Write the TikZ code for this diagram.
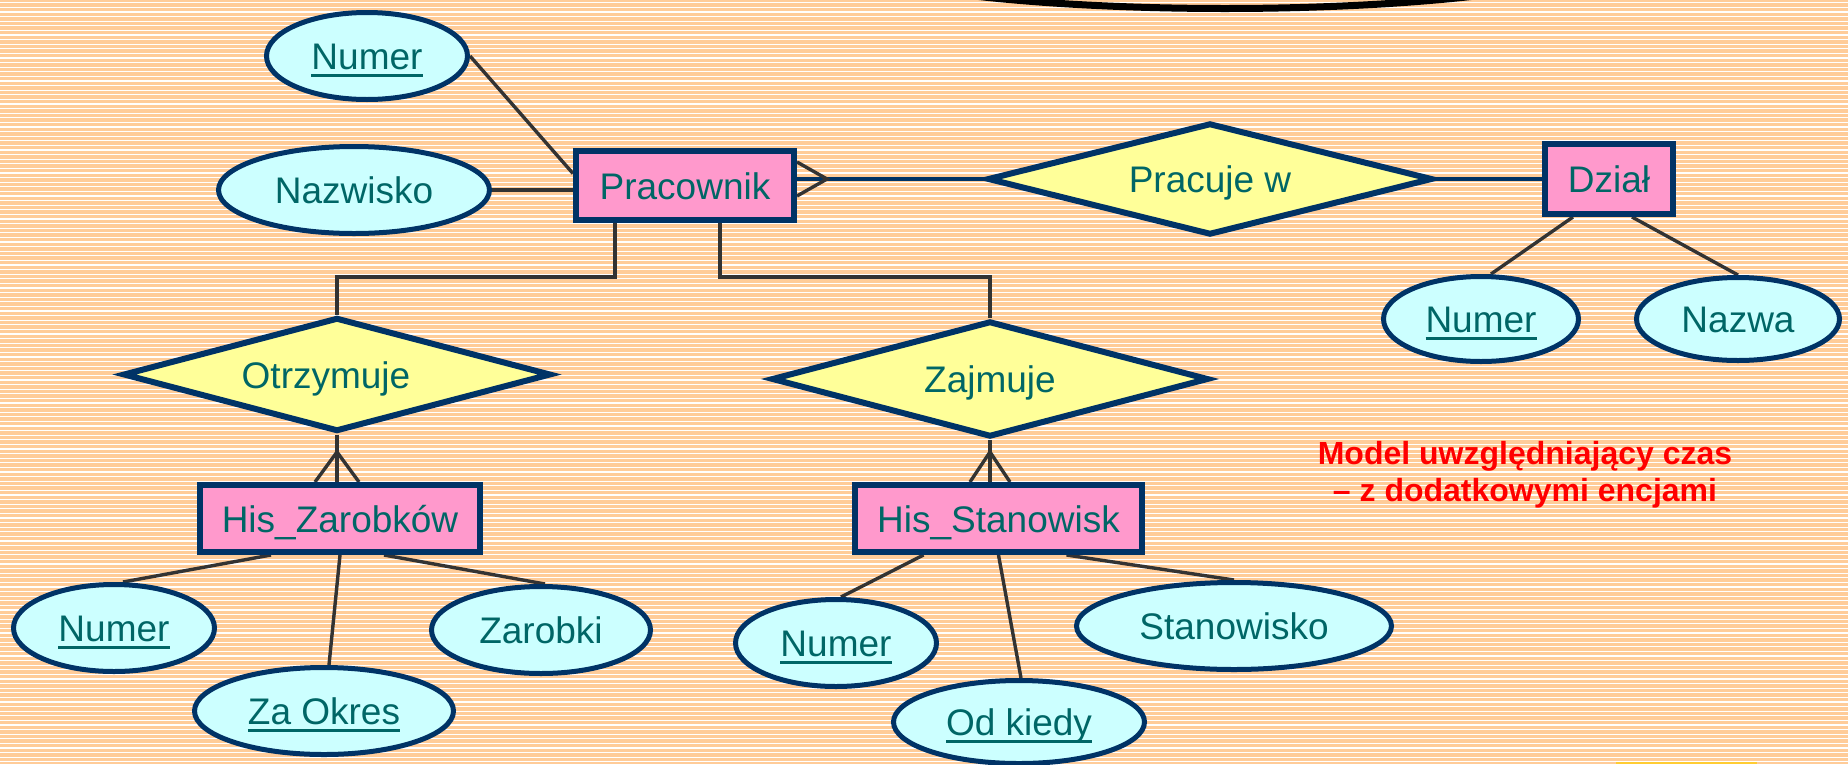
\documentclass[tikz,border=0pt]{standalone}
\usepackage{fontspec}
\setmainfont{Liberation Sans}
\usetikzlibrary{shapes.geometric,calc}
\pgfdeclarelayer{bg}
\pgfdeclarelayer{edges}
\pgfsetlayers{bg,edges,main}
\definecolor{peach}{HTML}{FFCC99}
\definecolor{pinkfill}{HTML}{FF99CC}
\definecolor{navy}{HTML}{003366}
\definecolor{cyanfill}{HTML}{CCFFFF}
\definecolor{yellowfill}{HTML}{FFFF99}
\definecolor{tealtext}{HTML}{006666}
\definecolor{linegray}{HTML}{333333}
\definecolor{goldbit}{HTML}{FFCC33}
\newcommand{\keyattr}[1]{\setbox0=\hbox{#1}\rlap{\rule[-7pt]{\wd0}{3pt}}\box0}
\tikzset{
 lbl/.style={font=\fontsize{37}{44}\selectfont, text=tealtext, inner sep=0pt, text height=27pt, text depth=0pt},
 entity/.style={lbl, rectangle, draw=navy, line width=6pt, fill=pinkfill},
 attr/.style={lbl, ellipse, draw=navy, line width=5pt, fill=cyanfill},
 rel/.style={lbl, diamond, aspect=4, draw=navy, line width=6pt, fill=yellowfill},
 conn/.style={draw=linegray, line width=3.4pt},
 navyconn/.style={draw=navy, line width=3.6pt},
}
\begin{document}
\begin{tikzpicture}[x=1pt,y=-1pt]
\useasboundingbox (0,0) rectangle (1848,764);
\begin{pgfonlayer}{bg}
\fill[peach] (0,0) rectangle (1848,764);
\foreach \i in {0,...,166} \fill[white] (0,{2.2+4.6*\i}) rectangle (1848,{3.4+4.6*\i});
\end{pgfonlayer}

% cut-off shape at the top
\draw[black, line width=7pt] (1225,-51.5) ellipse [x radius=410pt, y radius=60pt];

% entities
\node[entity, minimum width=218pt, minimum height=69pt] (prac) at (685,185.5) {Pracownik};
\node[entity, minimum width=128pt, minimum height=70pt] (dzial) at (1609,179) {Dział};
\node[entity, minimum width=280pt, minimum height=67pt] (hz) at (340,518.5) {His\_Zarobków};
\node[entity, minimum width=287pt, minimum height=67pt] (hs) at (998.5,518.5) {His\_Stanowisk};

% relationships
\node[rel, minimum width=445pt, minimum height=112pt] (pracw) at (1210,179) {Pracuje w};
\node[rel, minimum width=428pt, minimum height=114pt] (otrz) at (337,374.5) {Otrzymuje\hspace*{22pt}};
\node[rel, minimum width=437pt, minimum height=116pt] (zaj) at (990,379) {Zajmuje};

% attributes
\node[attr, minimum width=201pt, minimum height=87pt] (pnum) at (367,56) {\keyattr{Numer}};
\node[attr, minimum width=271pt, minimum height=87pt] (pnaz) at (354,190) {Nazwisko};
\node[attr, minimum width=195pt, minimum height=85pt] (dnum) at (1481,319) {\keyattr{Numer}};
\node[attr, minimum width=203pt, minimum height=83pt] (dnaz) at (1738,319) {Nazwa};
\node[attr, minimum width=201pt, minimum height=87pt] (hznum) at (114,628) {\keyattr{Numer}};
\node[attr, minimum width=259pt, minimum height=87pt] (hzokr) at (324,711) {\keyattr{Za Okres}};
\node[attr, minimum width=219pt, minimum height=87pt] (hzzar) at (541,630) {Zarobki};
\node[attr, minimum width=201pt, minimum height=87pt] (hsnum) at (836,643) {\keyattr{Numer}};
\node[attr, minimum width=251pt, minimum height=83pt] (hsod) at (1019,722) {\keyattr{Od kiedy}};
\node[attr, minimum width=315pt, minimum height=87pt] (hsst) at (1234,626) {Stanowisko};

% caption
\node[font=\fontsize{32}{37}\selectfont\bfseries, text=red, align=center, inner sep=0pt] (title) at (1525,475) {Model uwzględniający czas\\– z dodatkowymi encjami};

% bits at the bottom edge
\fill[goldbit] (1616,762) rectangle (1757,764);

\begin{pgfonlayer}{edges}
\draw[conn] (pnum.east) -- ($(prac.west)+(0,-12)$);
\draw[conn] (pnaz.east) -- (pnaz.east -| prac.west);
\draw[conn] ($(prac.south)+(-70,0)$) -- ++(0,54) -| (otrz.north);
\draw[conn] ($(prac.south)+(35,0)$) -- ++(0,54) -| (zaj.north);

\coordinate (pe) at (pracw.west -| prac.east);
\draw[navyconn] (pe) -- (pracw.west);
\draw[conn] ($(pe)+(0,-17)$) -- ($(pe)+(30,0)$) -- ($(pe)+(0,17)$);
\draw[navyconn] (pracw.east) -- (dzial.west);

\draw[conn] ($(dzial.south)+(-36,0)$) -- ($(dnum.north)+(10,0)$);
\draw[conn] ($(dzial.south)+(23,0)$) -- (dnaz.north);

\coordinate (hzt) at (otrz.south |- hz.north);
\draw[conn] (otrz.south) -- (hzt);
\draw[conn] ($(hzt)+(-22,0)$) -- ($(hzt)+(0,-30)$) -- ($(hzt)+(22,0)$);

\coordinate (hst) at (zaj.south |- hs.north);
\draw[conn] (zaj.south) -- (hst);
\draw[conn] ($(hst)+(-20,0)$) -- ($(hst)+(0,-30)$) -- ($(hst)+(20,0)$);

\draw[conn] ($(hz.south)+(-69,0)$) -- ($(hznum.north)+(9,0)$);
\draw[conn] (hz.south) -- ($(hzokr.north)+(5,0)$);
\draw[conn] ($(hz.south)+(44,0)$) -- ($(hzzar.north)+(4,0)$);
\draw[conn] ($(hs.south)+(-75,0)$) -- ($(hsnum.north)+(5,0)$);
\draw[conn] (hs.south) -- ($(hsod.north)+(2,0)$);
\draw[conn] ($(hs.south)+(68,0)$) -- (hsst.north);
\end{pgfonlayer}
\end{tikzpicture}
\end{document}
